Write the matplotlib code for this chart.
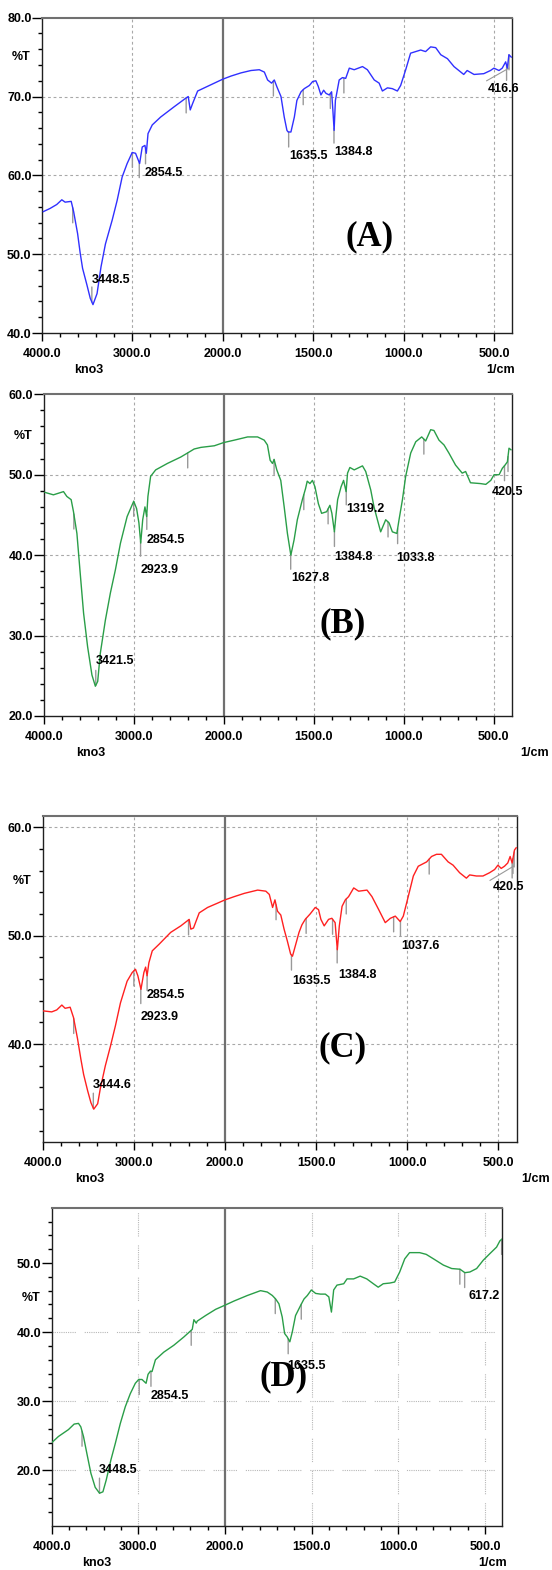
import numpy as np
import matplotlib
matplotlib.use("Agg")
import matplotlib.pyplot as plt
from matplotlib.ticker import FixedLocator, FuncFormatter

# ---- spectra, (wavenumber 1/cm, %T) --------------------------------------
WN_A = [3985, 3911, 3837, 3781, 3744, 3677, 3650, 3606, 3577, 3551, 3503, 3466,
        3436, 3391, 3347, 3298, 3224, 3169, 3113, 3058, 3002, 2965, 2920, 2891,
        2861, 2846, 2827, 2780, 2687, 2538, 2408, 2382, 2360, 2334, 2278, 2167,
        2056, 2000, 1954, 1899, 1844, 1798, 1770, 1752, 1730, 1715, 1700, 1678,
        1660, 1645, 1638, 1623, 1604, 1590, 1567, 1549, 1521, 1503, 1485, 1472,
        1457, 1442, 1429, 1411, 1398, 1391, 1384, 1377, 1356, 1338, 1320, 1300,
        1273, 1227, 1200, 1162, 1135, 1117, 1089, 1062, 1034, 1016, 988, 961,
        905, 878, 850, 822, 794, 757, 721, 667, 648, 610, 556, 519, 500, 472,
        454, 435, 426, 417, 404]
T_A = [55.4, 55.8, 56.3, 56.9, 56.6, 56.7, 55.4, 52.6, 50.1, 48.2, 46.1, 44.4,
       43.6, 45.0, 48.4, 51.3, 54.3, 56.8, 59.8, 61.5, 62.9, 62.8, 61.5, 63.6,
       63.8, 62.8, 65.3, 66.4, 67.4, 68.7, 69.8, 70.0, 68.3, 69.1, 70.7, 71.3,
       71.9, 72.2, 72.6, 73.0, 73.3, 73.4, 73.1, 72.1, 71.7, 72.1, 71.2, 70.0,
       67.4, 65.7, 65.5, 65.5, 67.4, 69.5, 70.6, 71.0, 71.4, 71.9, 72.0, 71.3,
       70.2, 70.8, 70.4, 70.2, 70.6, 68.3, 65.7, 69.5, 72.1, 72.4, 72.3, 73.6,
       73.4, 73.8, 73.4, 72.1, 71.7, 70.7, 71.1, 71.0, 70.7, 71.4, 73.4, 75.5,
       75.9, 75.7, 76.3, 76.2, 75.3, 74.8, 73.8, 72.8, 73.3, 72.8, 72.9, 73.3,
       73.6, 73.3, 73.6, 74.4, 73.6, 75.3, 75.0]

WN_B = [3985, 3892, 3780, 3743, 3695, 3669, 3631, 3594, 3557, 3512, 3464, 3426,
        3400, 3371, 3315, 3259, 3203, 3147, 3073, 3000, 2968, 2942, 2922, 2900,
        2875, 2856, 2842, 2812, 2756, 2626, 2477, 2402, 2328, 2253, 2104, 2000,
        1941, 1867, 1812, 1775, 1757, 1742, 1729, 1720, 1705, 1683, 1664, 1646,
        1627, 1609, 1591, 1563, 1545, 1536, 1521, 1507, 1493, 1474, 1456, 1428,
        1410, 1399, 1385, 1377, 1367, 1348, 1334, 1320, 1312, 1299, 1275, 1229,
        1211, 1183, 1165, 1146, 1128, 1100, 1081, 1063, 1038, 1026, 1007, 989,
        961, 933, 900, 878, 850, 832, 804, 776, 749, 712, 675, 656, 629, 574,
        544, 516, 498, 470, 452, 437, 424, 415, 404]
T_B = [47.8, 47.5, 47.9, 47.3, 46.9, 45.4, 42.7, 37.7, 32.8, 28.6, 25.1, 23.7,
       24.3, 27.8, 31.9, 35.3, 38.2, 41.5, 44.8, 46.7, 45.8, 44.0, 41.5, 44.4,
       46.0, 44.8, 47.3, 49.8, 50.6, 51.4, 52.2, 52.7, 53.2, 53.4, 53.6, 54.0,
       54.3, 54.7, 54.7, 54.3, 53.7, 51.8, 51.4, 51.9, 50.6, 49.3, 46.0, 42.7,
       40.0, 41.9, 44.4, 46.9, 48.3, 49.2, 48.9, 49.3, 48.5, 46.4, 45.2, 45.4,
       46.2, 45.2, 42.9, 44.8, 46.9, 48.5, 49.3, 47.9, 50.2, 50.9, 50.6, 51.1,
       50.4, 48.1, 46.0, 44.4, 42.9, 44.4, 44.0, 42.9, 42.7, 44.4, 46.9, 49.8,
       52.7, 54.1, 54.7, 54.2, 55.6, 55.5, 54.3, 53.7, 52.7, 51.2, 50.2, 50.4,
       49.0, 48.9, 48.8, 49.3, 50.0, 50.0, 50.8, 51.2, 51.6, 53.3, 53.1]

WN_C = [3993, 3901, 3846, 3790, 3754, 3699, 3662, 3618, 3581, 3551, 3507, 3471,
        3440, 3397, 3368, 3313, 3257, 3202, 3147, 3074, 3018, 2982, 2956, 2922,
        2890, 2871, 2855, 2835, 2798, 2724, 2596, 2485, 2393, 2375, 2346, 2283,
        2191, 2081, 2000, 1949, 1894, 1821, 1776, 1757, 1739, 1726, 1712, 1694,
        1676, 1658, 1640, 1630, 1612, 1594, 1578, 1560, 1533, 1505, 1487, 1474,
        1456, 1432, 1414, 1396, 1384, 1373, 1358, 1340, 1322, 1294, 1267, 1221,
        1194, 1157, 1121, 1093, 1066, 1039, 1022, 995, 967, 940, 894, 867, 840,
        813, 776, 749, 713, 676, 658, 621, 585, 549, 521, 503, 485, 467, 449,
        436, 425, 412, 403]
T_C = [43.06, 42.97, 43.15, 43.6, 43.3, 43.4, 42.45, 40.5, 38.6, 37.2, 35.7, 34.6,
       34.0, 34.5, 35.9, 38.0, 39.8, 41.7, 43.8, 45.8, 46.6, 46.9, 46.3, 45.05,
       46.6, 47.1, 46.3, 47.5, 48.6, 49.2, 50.3, 50.9, 51.5, 50.6, 50.7, 52.1,
       52.6, 53.0, 53.3, 53.6, 53.9, 54.2, 54.1, 53.8, 52.6, 53.3, 52.25, 51.9,
       50.6, 49.5, 48.3, 48.1, 49.2, 50.3, 51.0, 51.5, 52.0, 52.6, 52.4, 51.5,
       50.9, 51.5, 51.6, 51.2, 48.7, 50.9, 52.7, 53.3, 53.6, 54.4, 54.1, 54.2,
       53.6, 52.4, 51.2, 51.6, 51.8, 51.3, 51.8, 53.6, 55.5, 56.4, 56.8, 57.3, 57.5,
       57.5, 56.8, 56.5, 55.8, 55.3, 55.6, 55.5, 55.5, 55.8, 56.1, 56.5, 56.2, 56.4, 56.7,
       57.3, 56.7, 57.9, 58.1]

WN_D = [4000, 3923, 3865, 3807, 3741, 3691, 3664, 3633, 3595, 3548, 3498, 3448,
        3409, 3371, 3317, 3266, 3208, 3151, 3093, 3035, 2996, 2958, 2911, 2888,
        2861, 2842, 2803, 2707, 2591, 2475, 2378, 2359, 2332, 2320, 2224, 2108,
        2000, 1948, 1871, 1795, 1756, 1727, 1708, 1689, 1670, 1656, 1641, 1626,
        1612, 1593, 1563, 1544, 1525, 1502, 1477, 1449, 1421, 1401, 1386, 1373,
        1354, 1315, 1296, 1258, 1220, 1182, 1144, 1116, 1087, 1049, 1021, 992,
        963, 935, 877, 839, 797, 740, 692, 644, 616, 587, 548, 510, 472, 433,
        414, 400]
T_D = [24.0, 24.9, 25.4, 25.9, 26.7, 26.8, 26.3, 24.9, 22.5, 19.6, 17.55, 16.7,
       16.9, 18.6, 21.5, 23.9, 26.8, 29.2, 31.1, 32.6, 33.15, 33.15, 32.6, 33.9,
       34.35, 34.3, 36.0, 37.1, 38.1, 39.3, 40.4, 41.8, 41.3, 41.6, 42.4, 43.3,
       43.9, 44.5, 45.3, 46.0, 45.8, 45.3, 44.8, 44.1, 42.2, 39.8, 39.3, 38.6,
       40.0, 42.4, 43.9, 44.8, 45.3, 46.1, 45.6, 45.5, 45.5, 45.1, 42.9, 46.1,
       46.8, 47.0, 47.7, 47.7, 48.1, 47.7, 47.0, 46.5, 47.0, 47.1, 47.25, 48.7,
       50.6, 51.5, 51.5, 51.25, 50.6, 49.7, 49.2, 49.1, 48.6, 48.7, 49.2, 50.4,
       51.35, 52.3, 53.2, 53.5]

# labelled peaks (the label text is the value)
PEAKS_A = [3448.5, 2854.5, 1635.5, 1384.8, 416.6]
PEAKS_B = [3421.5, 2923.9, 2854.5, 1627.8, 1384.8, 1319.2, 1033.8, 420.5]
PEAKS_C = [3444.6, 2923.9, 2854.5, 1635.5, 1384.8, 1037.6, 420.5]
PEAKS_D = [3448.5, 2854.5, 1635.5, 617.2]
# extra peak-pick ticks without a label
MARKS_A = [3660, 3000, 2923.9, 2405, 1720, 1555, 1405, 1330, 430]
MARKS_B = [3665, 3000, 2400, 1720, 1555, 1420, 1087, 888, 440]
MARKS_C = [3660, 3000, 2400, 1720, 1555, 1410, 1335, 1075, 880, 425, 414]
MARKS_D = [3650, 2990, 2390, 1710, 1560, 645, 404]
# baseline segments drawn by the peak picker
BASE_WN_A = [540, 417]
BASE_T_A = [72.0, 73.6]
BASE_WN_C = [546, 418]
BASE_T_C = [55.1, 56.4]

# ---- layout / style ------------------------------------------------------
FIG_W, FIG_H = 552, 1570
# axes boxes in pixels: left, top, right, bottom
BOX = {
    "A": (42, 17.7, 512, 333),
    "B": (43.7, 394.3, 511.7, 716),
    "C": (42.7, 815.7, 516.7, 1141.7),
    "D": (51.7, 1207.7, 502.3, 1525.7),
}
# label text positions (wavenumber, %T), left aligned
LABEL_POS = {
    "A": {3448.5: (3450, 46.7), 2854.5: (2860, 60.3), 1635.5: (1635, 62.5),
          1384.8: (1382, 63.0), 416.6: (533, 71.0)},
    "B": {3421.5: (3426, 26.8), 2923.9: (2922, 38.2), 2854.5: (2860, 41.9),
          1627.8: (1627, 37.1), 1384.8: (1388, 39.8), 1319.2: (1320, 45.7),
          1033.8: (1044, 39.6), 420.5: (509, 47.8)},
    "C": {3444.6: (3452, 36.2), 2923.9: (2925, 42.5), 2854.5: (2860, 44.5),
          1635.5: (1630, 45.8), 1384.8: (1380, 46.4), 1037.6: (1035, 49.0),
          420.5: (531, 54.5)},
    "D": {3448.5: (3452, 20.05), 2854.5: (2855, 30.7), 1635.5: (1641, 35.1),
          617.2: (596, 45.2)},
}
UP_PEAKS = {"A": [3448.5], "B": [3421.5], "C": [3444.6], "D": [3448.5]}
LETTER_POS = {"A": (1190, 52.2), "B": (1340, 31.5), "C": (1357, 39.7), "D": (1660, 33.5)}
PCT_Y = {"A": 75.0, "B": 54.8, "C": 55.0, "D": 45.0}
UNIT_X = {"A": 1.006, "B": 1.08, "C": 1.07, "D": 1.01}

LABEL_FONT = ["Liberation Sans", "DejaVu Sans"]
LABEL_SIZE = 9
GRAY_MARK = "#999999"


def _fwd(w):
    w = np.asarray(w, dtype=float)
    return np.where(w >= 2000, w, 2 * w - 2000)


def _inv(f):
    f = np.asarray(f, dtype=float)
    return np.where(f >= 2000, f, (f + 2000) / 2)


def _fmt(v, _pos):
    return f"{v:.1f}"


def draw_panel(fig, key, wn, tr, color, ylim, ymajor, yminor, ygrid, peaks, marks,
               dotted_grid=False, base=None):
    l, t, r, b = BOX[key]
    ax = fig.add_axes([l / FIG_W, 1 - b / FIG_H, (r - l) / FIG_W, (b - t) / FIG_H])
    ax.set_xscale("function", functions=(_fwd, _inv))
    ax.set_xlim(4000, 400)
    ax.set_ylim(*ylim)

    ax.xaxis.set_major_locator(FixedLocator([4000, 3000, 2000, 1500, 1000, 500]))
    xminor = [w for w in range(3800, 2000, -200) if w != 3000] + \
             [w for w in range(1900, 550, -100) if w not in (1500, 1000)]
    ax.xaxis.set_minor_locator(FixedLocator(xminor))
    ax.yaxis.set_major_locator(FixedLocator(ymajor))
    ax.yaxis.set_minor_locator(FixedLocator(yminor))
    ax.xaxis.set_major_formatter(FuncFormatter(_fmt))
    ax.yaxis.set_major_formatter(FuncFormatter(_fmt))
    ax.tick_params(axis="x", which="major", direction="out", length=6, width=1, pad=5)
    ax.tick_params(axis="y", which="major", direction="out", length=7, width=1, pad=0.5)
    ax.tick_params(which="minor", direction="out", length=3, width=1)
    for lab in ax.get_xticklabels() + ax.get_yticklabels():
        lab.set_family(LABEL_FONT)
        lab.set_fontweight("bold")
        lab.set_fontsize(LABEL_SIZE)

    for side in ("left", "bottom", "right"):
        ax.spines[side].set_color("#202020")
        ax.spines[side].set_linewidth(1.0)
    ax.spines["top"].set_color("#707070")
    ax.spines["top"].set_linewidth(1.5)

    # grid
    if dotted_grid:
        gkw = dict(color="#b8b8b8", lw=0.8, dashes=[1, 1] * 10 + [1, 8])
    else:
        gkw = dict(color="#a8a8a8", lw=0.8, dashes=(2.5, 2.5))
    for w in (3000, 1500, 1000, 500):
        ax.axvline(w, zorder=1, **gkw)
    for y in ygrid:
        ax.axhline(y, zorder=1, **gkw)
    ax.axvline(2000, color="#707070", lw=1.6, zorder=1)

    ax.plot(wn, tr, color=color, lw=1.0, zorder=3)

    # peak-pick ticks
    order = np.argsort(wn)
    ws = np.asarray(wn, float)[order]
    ts = np.asarray(tr, float)[order]
    for w in list(peaks) + list(marks):
        tv = np.interp(w, ws, ts)
        dy = 15 if w in UP_PEAKS[key] else -15
        ax.annotate("", xy=(w, tv), xytext=(0, dy), textcoords="offset pixels",
                    arrowprops=dict(arrowstyle="-", color=GRAY_MARK, lw=1.0,
                                    shrinkA=0, shrinkB=0), zorder=2)
    if base is not None:
        ax.plot(base[0], base[1], color=GRAY_MARK, lw=0.8, zorder=2)
    for w in peaks:
        x, y = LABEL_POS[key][w]
        ax.text(x, y, f"{w:.1f}", family=LABEL_FONT, fontweight="bold",
                fontsize=LABEL_SIZE, ha="left", va="center", zorder=4)

    lx, ly = LETTER_POS[key]
    ax.text(lx, ly, f"({key})", family=["Liberation Serif", "DejaVu Serif"],
            fontweight="bold", fontsize=25, ha="center", va="center", zorder=5)

    txt = dict(family=LABEL_FONT, fontweight="bold", fontsize=LABEL_SIZE,
               va="center", annotation_clip=False)
    ax.annotate("%T", xy=(0, PCT_Y[key]), xycoords=("axes fraction", "data"),
                xytext=(-21, 0), textcoords="offset pixels", ha="center", **txt)
    ax.annotate("kno3", xy=(0.1, 0), xycoords="axes fraction",
                xytext=(0, -37), textcoords="offset pixels", ha="center", **txt)
    ax.annotate("1/cm", xy=(UNIT_X[key], 0), xycoords="axes fraction",
                xytext=(0, -37), textcoords="offset pixels", ha="right", **txt)
    return ax


fig = plt.figure(figsize=(FIG_W / 100, FIG_H / 100), dpi=100)

draw_panel(fig, "A", WN_A, T_A, "#3030ff", (40, 80), [40, 50, 60, 70, 80],
           list(range(42, 80, 2)), [50, 60, 70], PEAKS_A, MARKS_A,
           base=(BASE_WN_A, BASE_T_A))
draw_panel(fig, "B", WN_B, T_B, "#2a9e48", (20, 60), [20, 30, 40, 50, 60],
           list(range(22, 60, 2)), [30, 40, 50], PEAKS_B, MARKS_B)
draw_panel(fig, "C", WN_C, T_C, "#ff2020", (31.0, 61.06), [40, 50, 60],
           list(range(32, 61, 2)), [40, 50, 60], PEAKS_C, MARKS_C,
           base=(BASE_WN_C, BASE_T_C))
draw_panel(fig, "D", WN_D, T_D, "#2a9e48", (12, 58), [20, 30, 40, 50],
           list(range(14, 58, 2)), [20, 30, 40], PEAKS_D, MARKS_D, dotted_grid=True)

fig.savefig("out.png", dpi=100, facecolor="white")
